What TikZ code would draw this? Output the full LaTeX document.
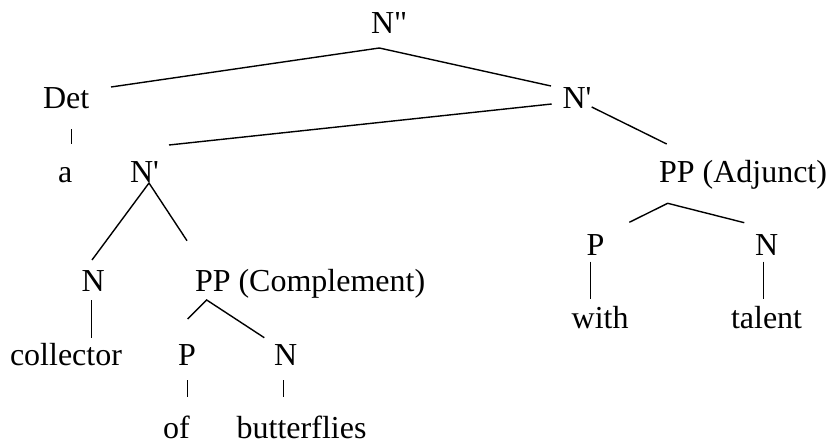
\documentclass[tikz,border=0pt]{standalone}
\usepackage{fontspec}
\newfontfamily\treefont{Liberation Serif}
\begin{document}
\begin{tikzpicture}[x=1pt,y=-1pt,
  lbl/.style={anchor=base west,inner sep=0pt,outer sep=0pt,
    font=\treefont\fontsize{32}{38}\selectfont},
  branch/.style={draw=black,line width=1.4pt,line cap=butt}]
\useasboundingbox (0,0) rectangle (826,442);

% category and word labels
\node[lbl] (npp)   at (371,33.3) {N"};
\node[lbl] (det)   at (43,108)   {Det};
\node[lbl] (a)     at (58,182)   {a};
\node[lbl] (nbarA) at (562.5,108) {N'};
\node[lbl] (nbarB) at (130,182)  {N'};
\node[lbl] (ppadj) at (659,182)  {PP (Adjunct)};
\node[lbl] (nA)    at (81.5,291.7) {N};
\node[lbl] (ppcmp) at (195,291.7) {PP (Complement)};
\node[lbl] (coll)  at (10,365)   {collector};
\node[lbl] (pA)    at (178,365)  {P};
\node[lbl] (nB)    at (274,365)  {N};
\node[lbl] (of)    at (163,438)  {of};
\node[lbl] (bfly)  at (236.7,438) {butterflies};
\node[lbl] (pB)    at (586.5,255) {P};
\node[lbl] (nC)    at (755,255)  {N};
\node[lbl] (with)  at (571.7,328) {with};
\node[lbl] (tal)   at (731,328)  {talent};

% branch end points
\coordinate (npp-b)   at (379.3,48);
\coordinate (det-t)   at (111,87);
\coordinate (nbarA-l) at (551,86);
\coordinate (det-b)   at (71.7,129);
\coordinate (a-t)     at (71.7,144);
\coordinate (nbarA-w) at (551.7,104);
\coordinate (nbarB-t) at (169,145);
\coordinate (nbarA-e) at (591.7,107);
\coordinate (ppadj-t) at (666.7,144);
\coordinate (nbarB-b) at (149,183);
\coordinate (nA-t)    at (92,260);
\coordinate (ppcmp-t) at (187,240.7);
\coordinate (nA-b)    at (91.7,300);
\coordinate (coll-t)  at (91.7,338.3);
\coordinate (ppcmp-b) at (206.7,300);
\coordinate (pA-t)    at (187.7,319);
\coordinate (nB-t)    at (264.3,337.7);
\coordinate (pA-b)    at (187.3,380);
\coordinate (of-t)    at (187.3,396.5);
\coordinate (nB-b)    at (283.3,380);
\coordinate (bfly-t)  at (283.3,396.5);
\coordinate (ppadj-b) at (667.7,203.3);
\coordinate (pB-t)    at (629.3,222.3);
\coordinate (nC-t)    at (744.3,222.7);
\coordinate (pB-b)    at (590.7,261.7);
\coordinate (with-t)  at (590.7,299);
\coordinate (nC-b)    at (763.3,261.7);
\coordinate (tal-t)   at (763.3,299);

% branches
\draw[branch] (det-t) -- (npp-b) -- (nbarA-l);
\draw[branch] (det-b) -- (a-t);
\draw[branch] (nbarA-w) -- (nbarB-t);
\draw[branch] (nbarA-e) -- (ppadj-t);
\draw[branch] (nA-t) -- (nbarB-b) -- (ppcmp-t);
\draw[branch] (nA-b) -- (coll-t);
\draw[branch] (pA-t) -- (ppcmp-b) -- (nB-t);
\draw[branch] (pA-b) -- (of-t);
\draw[branch] (nB-b) -- (bfly-t);
\draw[branch] (pB-t) -- (ppadj-b) -- (nC-t);
\draw[branch] (pB-b) -- (with-t);
\draw[branch] (nC-b) -- (tal-t);
\end{tikzpicture}
\end{document}
